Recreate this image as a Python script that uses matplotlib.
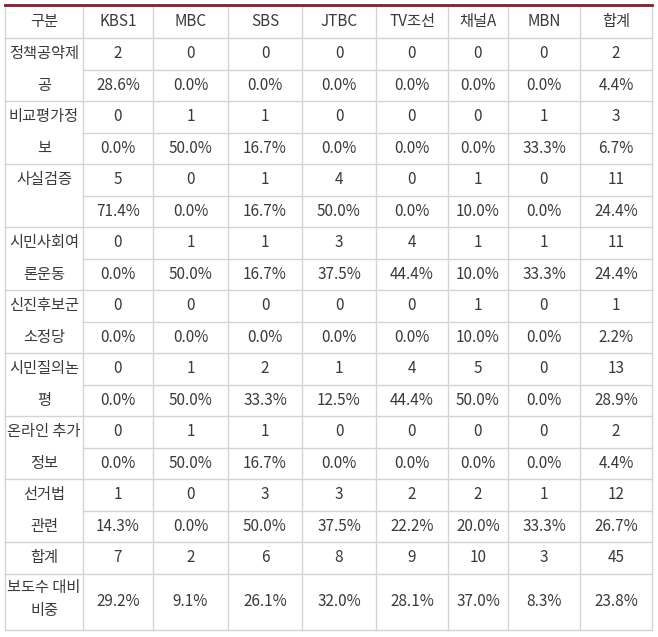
import matplotlib
matplotlib.use("Agg")
import matplotlib.pyplot as plt

plt.rcParams['font.family'] = ['Noto Sans CJK KR', 'DejaVu Sans']

header = ["구분", "KBS1", "MBC", "SBS", "JTBC", "TV조선", "채널A", "MBN", "합계"]
categories = [["정책공약제", "공"], ["비교평가정", "보"], ["사실검증"], ["시민사회여", "론운동"],
              ["신진후보군", "소정당"], ["시민질의논", "평"], ["온라인 추가", "정보"], ["선거법", "관련"]]
counts = [[2,0,0,0,0,0,0,2],[0,1,1,0,0,0,1,3],[5,0,1,4,0,1,0,11],[0,1,1,3,4,1,1,11],
          [0,0,0,0,0,1,0,1],[0,1,2,1,4,5,0,13],[0,1,1,0,0,0,0,2],[1,0,3,3,2,2,1,12]]
pcts = [["28.6%","0.0%","0.0%","0.0%","0.0%","0.0%","0.0%","4.4%"],
        ["0.0%","50.0%","16.7%","0.0%","0.0%","0.0%","33.3%","6.7%"],
        ["71.4%","0.0%","16.7%","50.0%","0.0%","10.0%","0.0%","24.4%"],
        ["0.0%","50.0%","16.7%","37.5%","44.4%","10.0%","33.3%","24.4%"],
        ["0.0%","0.0%","0.0%","0.0%","0.0%","10.0%","0.0%","2.2%"],
        ["0.0%","50.0%","33.3%","12.5%","44.4%","50.0%","0.0%","28.9%"],
        ["0.0%","50.0%","16.7%","0.0%","0.0%","0.0%","0.0%","4.4%"],
        ["14.3%","0.0%","50.0%","37.5%","22.2%","20.0%","33.3%","26.7%"]]
total_label = "합계"
totals = [7,2,6,8,9,10,3,45]
ratio_label = ["보도수 대비", "비중"]
ratios = ["29.2%","9.1%","26.1%","32.0%","28.1%","37.0%","8.3%","23.8%"]

W, H = 658, 637
fig = plt.figure(figsize=(W/100, H/100), dpi=100)
ax = fig.add_axes([0, 0, 1, 1])
ax.set_xlim(0, W); ax.set_ylim(H, 0); ax.axis('off')

xs = [5, 83, 153, 228, 302, 376, 448, 508, 580, 652]
top, hdr_b = 5, 38
sub = 31.5
grid = '#d4d4d4'; tc = '#3a3a3a'; fs = 11

def t(x, y, s):
    ax.text(x, y, s, ha='center', va='center', fontsize=fs, color=tc)

cx = [(xs[i]+xs[i+1])/2 for i in range(9)]
for i, h in enumerate(header):
    t(cx[i], (top+hdr_b)/2, h)

y = hdr_b
for k in range(8):
    y0, y1, y2 = y, y+sub, y+2*sub
    for j in range(8):
        t(cx[j+1], (y0+y1)/2, str(counts[k][j]))
        t(cx[j+1], (y1+y2)/2, pcts[k][j])
    for li, line in enumerate(categories[k]):
        t(cx[0], (y0+y1)/2 + li*sub, line)
    ax.plot([xs[1], xs[-1]], [y1, y1], color=grid, lw=1)
    ax.plot([xs[0], xs[-1]], [y2, y2], color=grid, lw=1)
    y = y2
ax.plot([xs[0], xs[-1]], [hdr_b, hdr_b], color=grid, lw=1)
yt = y + sub
t(cx[0], (y+yt)/2, total_label)
for j in range(8):
    t(cx[j+1], (y+yt)/2, str(totals[j]))
ax.plot([xs[0], xs[-1]], [yt, yt], color=grid, lw=1)
yb = 630
t(cx[0], yt+14, ratio_label[0]); t(cx[0], yt+37, ratio_label[1])
for j in range(8):
    t(cx[j+1], (yt+yb)/2, ratios[j])
ax.plot([xs[0], xs[-1]], [yb, yb], color=grid, lw=1)
for x in xs:
    ax.plot([x, x], [top, yb], color=grid, lw=1)
ax.plot([xs[0], xs[-1]], [top, top], color='#8b1a2b', lw=2)

fig.savefig("out.png", dpi=100)
